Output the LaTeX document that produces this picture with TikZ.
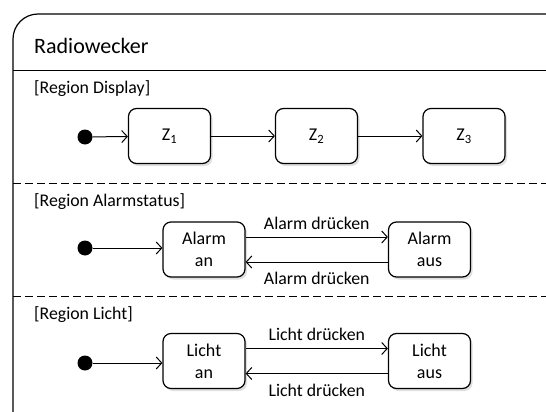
\documentclass[tikz,border=0pt]{standalone}
\usepackage{fontspec}
\setmainfont{Carlito}
\usetikzlibrary{arrows.meta,shadows}
\tikzset{
  zustand/.style={draw, line width=1.2pt, rounded corners=8pt, minimum width=82pt,
    minimum height=55pt, align=center, fill=white, font=\fontsize{18}{22}\selectfont,
    drop shadow={opacity=0.25, shadow xshift=2pt, shadow yshift=-2.5pt}},
  startpkt/.style={circle, fill=black, inner sep=0pt, minimum size=15pt},
  uebergang/.style={line width=1pt, -{Straight Barb[length=5.5pt,width=12pt,line width=1pt]}},
  regionlabel/.style={anchor=west, inner sep=0pt, font=\fontsize{17.8}{20}\selectfont},
  kantenlabel/.style={inner sep=0pt, font=\fontsize{17.8}{20}\selectfont},
  trenner/.style={line width=1pt, dash pattern=on 7.5pt off 4.5pt}
}
\begin{document}
\begin{tikzpicture}[x=1pt,y=-1pt]
  \useasboundingbox (0,0) rectangle (546,412);
  \clip (0,0) rectangle (546,412);
  % Rahmen des Zustands
  \draw[line width=1.2pt, rounded corners=25pt] (13,14) rectangle (580,440);
  \node[anchor=west, inner sep=0pt, font=\fontsize{22}{26}\selectfont] (titel) at (34,46) {Radiowecker};
  \draw[line width=1pt] (13,71) -- (580,71);
  \draw[trenner] (13,183) -- (580,183);
  \draw[trenner] (13,296) -- (580,296);

  % Region Display
  \node[regionlabel] (rdisplay) at (34,89) {[Region Display]};
  \node[startpkt] (s1) at (85,137) {};
  \node[zustand] (z1) at (169.5,136) {Z\textsubscript{1}};
  \node[zustand] (z2) at (316.5,136) {Z\textsubscript{2}};
  \node[zustand] (z3) at (464,136) {Z\textsubscript{3}};
  \draw[uebergang] (s1) -- (z1);
  \draw[uebergang] (z1) -- (z2);
  \draw[uebergang] (z2) -- (z3);

  % Region Alarmstatus
  \node[regionlabel] (ralarm) at (34,202) {[Region Alarmstatus]};
  \node[startpkt] (s2) at (85,248) {};
  \node[zustand] (alarman) at (204,249.5) {Alarm\\an};
  \node[zustand] (alarmaus) at (429.5,249.5) {Alarm\\aus};
  \draw[uebergang] (s2) -- (alarman.west |- s2);
  \draw[uebergang] ([yshift=12.5pt]alarman.east) -- node[kantenlabel, above=7pt] {Alarm drücken} ([yshift=12.5pt]alarmaus.west);
  \draw[uebergang] ([yshift=-12.5pt]alarmaus.west) -- node[kantenlabel, below=10pt] {Alarm drücken} ([yshift=-12.5pt]alarman.east);

  % Region Licht
  \node[regionlabel] (rlicht) at (34,315) {[Region Licht]};
  \node[startpkt] (s3) at (85,363) {};
  \node[zustand] (lichtan) at (204,361) {Licht\\an};
  \node[zustand] (lichtaus) at (429.5,361) {Licht\\aus};
  \draw[uebergang] (s3) -- (lichtan.west |- s3);
  \draw[uebergang] ([yshift=12.5pt]lichtan.east) -- node[kantenlabel, above=7pt] {Licht drücken} ([yshift=12.5pt]lichtaus.west);
  \draw[uebergang] ([yshift=-12.5pt]lichtaus.west) -- node[kantenlabel, below=10pt] {Licht drücken} ([yshift=-12.5pt]lichtan.east);
\end{tikzpicture}
\end{document}
